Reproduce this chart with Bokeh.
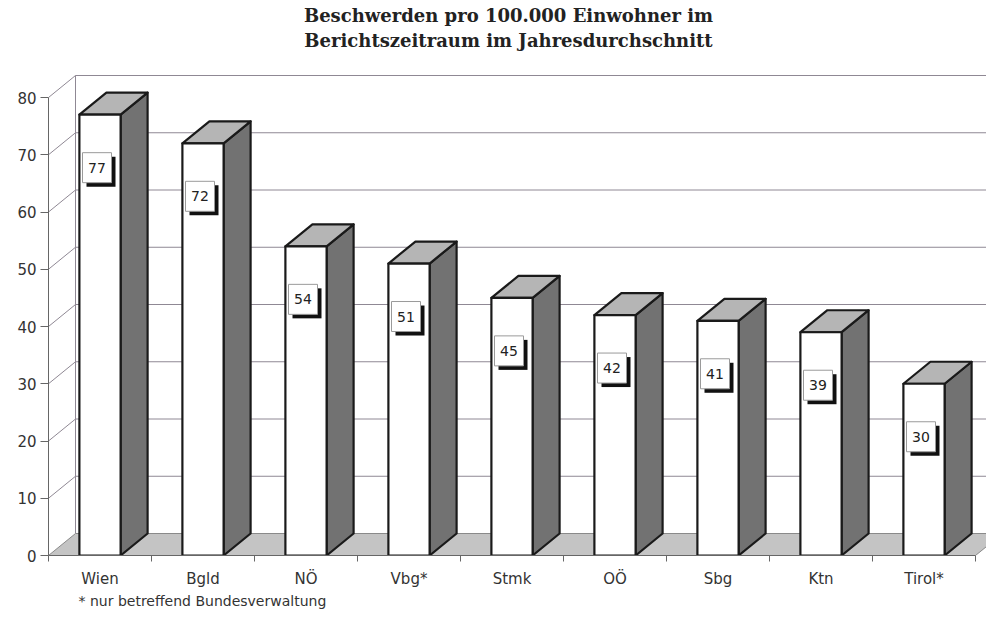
from bokeh.plotting import figure
from bokeh.models import FixedTicker, Range1d, Title, ColumnDataSource, LinearAxis
from bokeh.embed import file_html
from bokeh.resources import INLINE
from bokeh.core.properties import value

# ---------------- data ----------------
categories = ["Wien", "Bgld", "NÖ", "Vbg*", "Stmk", "OÖ", "Sbg", "Ktn", "Tirol*"]
values = [77, 72, 54, 51, 45, 42, 41, 39, 30]
y_ticks = [0, 10, 20, 30, 40, 50, 60, 70, 80]
title_lines = ["Beschwerden pro 100.000 Einwohner im",
               "Berichtszeitraum im Jahresdurchschnitt"]
footnote = "*  nur betreffend Bundesverwaltung"

# ---------------- layout constants ----------------
PX_PER_CAT = 103.0
PX_PER_UNIT = 5.725
FRAME_W = 938
FRAME_H = 555                 # frame reaches the top of the canvas (title drawn inside)
DX = 27 / PX_PER_CAT          # depth offset (category units)
DY = 22 / PX_PER_UNIT         # depth offset (value units)
HALF_W = 0.2
N = len(categories)
YMAX = y_ticks[-1]
TITLE_CX_PX = 460             # title centre, px right of the y axis
TITLE_Y_PX = [15, 40]         # title line centres, px from the top

FONT = "DejaVu Sans"
TFONT = "DejaVu Serif"
TXT = "#333333"
EDGE = "#1a1a1a"
GRID = "#8f8894"

p = figure(title=None, frame_width=FRAME_W, frame_height=FRAME_H,
           x_range=Range1d(0, FRAME_W / PX_PER_CAT),
           y_range=Range1d(0, FRAME_H / PX_PER_UNIT),
           output_backend="svg", toolbar_location=None,
           x_axis_type=None, y_axis_type=None,
           min_border_left=48, min_border_right=0, min_border_top=0, min_border_bottom=60)
p.outline_line_color = None
p.background_fill_color = "white"
p.border_fill_color = "white"

# two-line title
p.text(x=[TITLE_CX_PX / PX_PER_CAT] * 2,
       y=[(FRAME_H - t) / PX_PER_UNIT for t in TITLE_Y_PX],
       text=title_lines, text_align="center", text_baseline="middle",
       text_font=value(TFONT), text_font_size="18px", text_font_style="bold",
       text_color="#222222")

# ---------------- back wall, side wall, floor ----------------
grid_levels = [t for t in y_ticks if t > 0]
p.multi_line(xs=[[DX, N + DX] for t in grid_levels],
             ys=[[t + DY, t + DY] for t in grid_levels],
             line_color=GRID, line_width=1)
p.multi_line(xs=[[0, DX] for t in grid_levels],
             ys=[[t, t + DY] for t in grid_levels],
             line_color=GRID, line_width=1)
p.line([DX, DX], [DY, YMAX + DY], line_color=GRID, line_width=1)

p.patch([0, N, N + DX, DX], [0, 0, DY, DY],
        fill_color="#c4c4c4", line_color="#8a8a8a", line_width=1)

# ---------------- bars ----------------
x0 = [i + 0.5 - HALF_W for i in range(N)]
x1 = [i + 0.5 + HALF_W for i in range(N)]

side_xs = [[b, b + DX, b + DX, b] for b in x1]
side_ys = [[0, DY, v + DY, v] for v in values]
top_xs = [[a, b, b + DX, a + DX] for a, b in zip(x0, x1)]
top_ys = [[v, v, v + DY, v + DY] for v in values]

p.patches(side_xs, side_ys, fill_color="#727272", line_color=EDGE,
          line_width=2.2, line_join="round")
p.patches(top_xs, top_ys, fill_color="#b5b5b5", line_color=EDGE,
          line_width=2.2, line_join="round")
p.quad(left=x0, right=x1, bottom=[0] * N, top=values,
       fill_color="white", line_color=EDGE, line_width=2.2, line_join="round")

# ---------------- value boxes ----------------
lab_y = [v - 53 / PX_PER_UNIT for v in values]
lab_x = [i + 0.5 - 3 / PX_PER_CAT for i in range(N)]
src = ColumnDataSource(dict(x=lab_x, y=lab_y,
                            sx=[x + 4 / PX_PER_CAT for x in lab_x],
                            sy=[y - 4 / PX_PER_UNIT for y in lab_y],
                            t=[str(v) for v in values]))
p.rect("sx", "sy", width=29, height=30, width_units="screen", height_units="screen",
       source=src, fill_color="#111111", line_color=None)
p.rect("x", "y", width=29, height=30, width_units="screen", height_units="screen",
       source=src, fill_color="white", line_color="#9a9a9a", line_width=1)
p.text("x", "y", text="t", source=src, text_align="center", text_baseline="middle",
       text_font=value(FONT), text_font_size="14px", text_color="#222222")

# ---------------- axes ----------------
yax = LinearAxis(ticker=FixedTicker(ticks=y_ticks), bounds=(0, YMAX))
yax.major_tick_out = 8
yax.major_tick_in = 0
yax.minor_tick_out = 0
yax.minor_tick_in = 0
yax.axis_line_color = "#666666"
yax.major_tick_line_color = "#666666"
yax.major_label_text_font = FONT
yax.major_label_text_font_size = "15px"
yax.major_label_text_color = TXT
yax.major_label_standoff = 4
p.add_layout(yax, "left")

centers = [i + 0.5 for i in range(N)]
xax = LinearAxis(ticker=FixedTicker(ticks=centers, minor_ticks=list(range(N + 1))),
                 bounds=(0, N))
xax.major_label_overrides = {c: name for c, name in zip(centers, categories)}
xax.major_tick_out = 0
xax.major_tick_in = 0
xax.minor_tick_out = 6
xax.minor_tick_in = 0
xax.axis_line_color = "#666666"
xax.minor_tick_line_color = "#666666"
xax.major_label_text_font = FONT
xax.major_label_text_font_size = "15px"
xax.major_label_text_color = TXT
xax.major_label_standoff = 8
p.add_layout(xax, "below")

p.add_layout(Title(text=footnote, align="left", text_font=FONT,
                   text_font_size="14px", text_font_style="normal", text_color=TXT,
                   offset=30, standoff=0), "below")

open("out.html", "w").write(file_html(p, INLINE))
